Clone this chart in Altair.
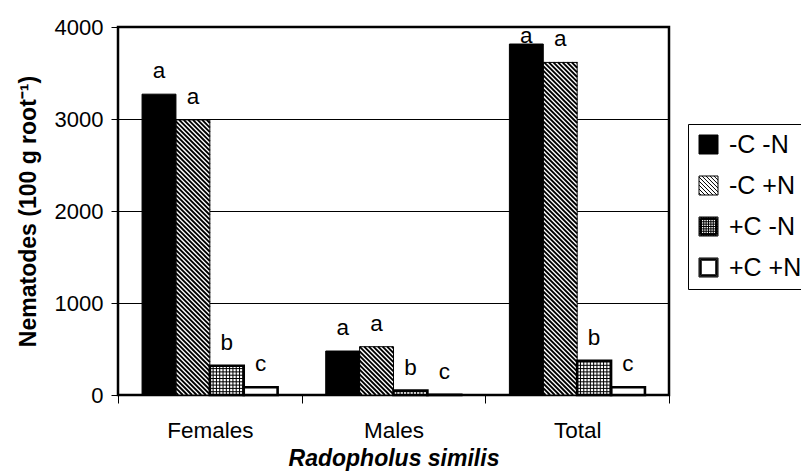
import altair as alt
import pandas as pd

# ---- data -------------------------------------------------------------
groups = ["Females", "Males", "Total"]
treatments = ["-C -N", "-C +N", "+C -N", "+C +N"]
females = [3270, 2990, 318, 84]
males = [478, 525, 48, 2]
total = [3815, 3615, 372, 84]
letters_females = ["a", "a", "b", "c"]
letters_males = ["a", "a", "b", "c"]
letters_total = ["a", "a", "b", "c"]

# ---- layout -----------------------------------------------------------
PLOT_W, PLOT_H = 551, 368
Y_MAX = 4000
BAR_W = 0.1845                      # bar width, as a fraction of one group
GROUP_PAD = (1 - 4 * BAR_W) / 2     # empty space on each side of a group
PX_X = PLOT_W / len(groups)         # pixels per x unit
PX_Y = PLOT_H / Y_MAX               # pixels per nematode
FONT = "Liberation Sans"
OUTLINE = {"-C -N": 1, "-C +N": 1, "+C -N": 2.6, "+C +N": 2.6}

rows = []
for gi, (g, vals, lets) in enumerate(
        zip(groups, [females, males, total],
            [letters_females, letters_males, letters_total])):
    for ti, (t, v, l) in enumerate(zip(treatments, vals, lets)):
        x0 = gi + GROUP_PAD + ti * BAR_W
        rows.append(dict(group=g, treatment=t, value=v, letter=l,
                         x0=x0, x1=x0 + BAR_W, xm=x0 + BAR_W / 2, zero=0,
                         sw=OUTLINE[t]))
bars = pd.DataFrame(rows)


# ---- fill patterns drawn as line segments inside the bars -------------
def diagonal_hatch(x0, x1, v, period=4.6, width=1.9):
    """Lines running from upper left to lower right, clipped to the bar."""
    w = (x1 - x0) * PX_X
    h = v * PX_Y
    segs = []
    c = period / 2
    while c < w + h:
        xa = max(0.0, c - h)
        xb = min(w, c)
        segs.append(dict(x=x0 + xa / PX_X, x2=x0 + xb / PX_X,
                         y=(c - xa) / PX_Y, y2=(c - xb) / PX_Y, w=width))
        c += period
    return segs


def fine_grid(x0, x1, v, period=3.3, width=1.0):
    w = (x1 - x0) * PX_X
    h = v * PX_Y
    segs = []
    k = period
    while k < w:
        segs.append(dict(x=x0 + k / PX_X, x2=x0 + k / PX_X,
                         y=0, y2=v, w=width))
        k += period
    k = period
    while k < h:
        segs.append(dict(x=x0, x2=x1, y=k / PX_Y, y2=k / PX_Y, w=width))
        k += period
    return segs


segments = []
for r in bars.itertuples():
    if r.treatment == "-C +N":
        segments += diagonal_hatch(r.x0, r.x1, r.value)
    elif r.treatment == "+C -N":
        segments += fine_grid(r.x0, r.x1, r.value)
lines = pd.DataFrame(segments)


# ---- legend swatches as symbol paths ----------------------------------
def square(hw):
    return f"M{-hw},{-hw}H{hw}V{hw}H{-hw}Z"


SQ = square(1)
THICK = " ".join(square(hw) for hw in (1, 0.92, 0.84, 0.76))


def hatch_symbol(step=0.42):
    parts = [SQ]
    c = -2 + step / 2
    while c < 2:
        xa, xb = max(-1, c - 1), min(1, c + 1)
        parts.append(f"M{xa:.3f},{xa - c:.3f}L{xb:.3f},{xb - c:.3f}")
        c += step
    return " ".join(parts)


def grid_symbol(step=0.25):
    parts = [THICK]
    k = -1 + step
    while k < 1:
        parts.append(f"M{k:.3f},-1V1 M-1,{k:.3f}H1")
        k += step
    return " ".join(parts)


shapes = [SQ, hatch_symbol(), grid_symbol(), THICK]

# ---- shared encodings -------------------------------------------------
x_axis = alt.Axis(values=[0, 1, 2, 3],
                  labelExpr="['Females','Males','Total'][datum.value] || ''",
                  labelOffset=PX_X / 2, labelFlush=False, labelOverlap=False,
                  domain=False, grid=False, ticks=True, tickSize=8,
                  tickColor="black", tickWidth=1,
                  labelFont=FONT, labelFontSize=22.5, labelColor="black",
                  labelPadding=16,
                  title="Radopholus similis", titleFont=FONT,
                  titleFontSize=23, titleFontWeight="bold",
                  titleFontStyle="italic", titleColor="black",
                  titlePadding=6)
y_axis = alt.Axis(values=[0, 1000, 2000, 3000, 4000], format="d",
                  domain=False, grid=True, gridColor="black", gridWidth=1,
                  gridOpacity=1, ticks=True, tickSize=7, tickColor="black",
                  tickWidth=1, labelFont=FONT, labelFontSize=22,
                  labelColor="black", labelPadding=8,
                  title="Nematodes (100 g root⁻¹)", titleFont=FONT,
                  titleFontSize=23, titleFontWeight="bold",
                  titleColor="black", titlePadding=14)
x_scale = alt.Scale(domain=[0, 3], nice=False, zero=False)
y_scale = alt.Scale(domain=[0, Y_MAX], nice=False)

legend = alt.Legend(orient="none", legendX=570, legendY=97, title=None,
                    padding=8, strokeColor="black", fillColor="white",
                    symbolSize=361, symbolStrokeColor="black",
                    symbolStrokeWidth=1, symbolOpacity=1,
                    labelFont=FONT, labelFontSize=25, labelColor="black",
                    labelOffset=8, rowPadding=15, labelLimit=0)
fill_enc = alt.Fill("treatment:N",
                    scale=alt.Scale(domain=treatments,
                                    range=["black", "white", "white", "white"]),
                    legend=legend)
shape_enc = alt.Shape("treatment:N",
                      scale=alt.Scale(domain=treatments, range=shapes),
                      legend=legend)
key_stroke_enc = alt.Stroke("treatment:N",
                            scale=alt.Scale(domain=treatments,
                                            range=["black"] * 4),
                            legend=legend)
key_width_enc = alt.StrokeWidth("treatment:N",
                                scale=alt.Scale(domain=treatments,
                                                range=[1, 1, 1, 1]),
                                legend=legend)


def X(field):
    return alt.X(f"{field}:Q", scale=x_scale, axis=x_axis)


def Y(field):
    return alt.Y(f"{field}:Q", scale=y_scale, axis=y_axis)


base = alt.Chart(bars)

# invisible points that carry the legend swatches
keys = base.mark_point(filled=True, opacity=0, size=10).encode(
    x=X("xm"), y=Y("value"), fill=fill_enc, shape=shape_enc,
    stroke=key_stroke_enc, strokeWidth=key_width_enc)

fills = base.mark_rect().encode(
    x=X("x0"), x2="x1", y=Y("value"), y2="zero", fill=fill_enc)

patterns = alt.Chart(lines).mark_rule(color="black").encode(
    x=X("x"), x2="x2", y=Y("y"), y2="y2",
    strokeWidth=alt.StrokeWidth("w:Q", scale=None))

outlines = base.mark_rect(fill="white", fillOpacity=0, stroke="black").encode(
    x=X("x0"), x2="x1", y=Y("value"), y2="zero",
    strokeWidth=alt.StrokeWidth("sw:Q", scale=None))

letters = base.transform_calculate(
    label_y="min(datum.value, 3650)"
).mark_text(font=FONT, fontSize=22.5, color="black", dy=-16,
            baseline="alphabetic", align="center").encode(
    x=X("xm"), y=Y("label_y"), text="letter:N")

chart = alt.layer(keys, fills, patterns, outlines, letters).properties(
    width=PLOT_W, height=PLOT_H,
    autosize=alt.AutoSizeParams(type="none"),
    padding={"left": 118, "top": 27, "right": 132, "bottom": 77},
).configure(font=FONT).configure_view(stroke="black", strokeWidth=2.5)

chart.save("out.html", embed_options={"renderer": "svg", "actions": False})
